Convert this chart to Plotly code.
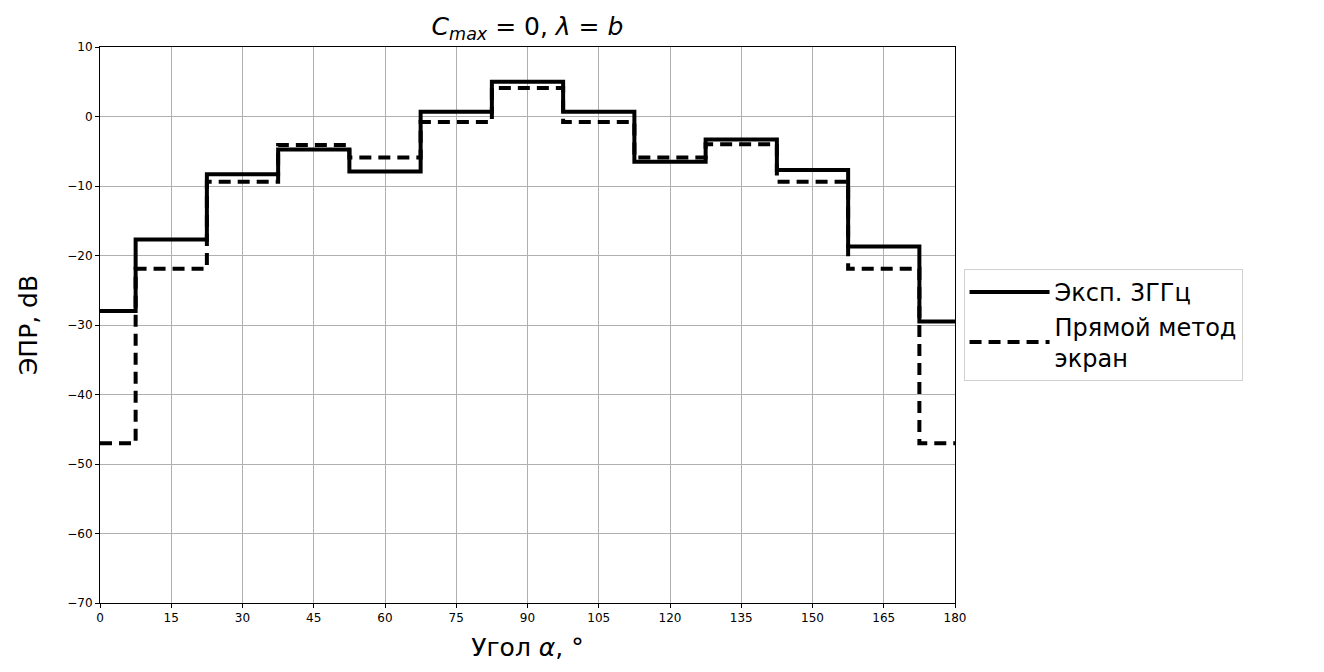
import plotly.graph_objects as go

angles = [0, 15, 30, 45, 60, 75, 90, 105, 120, 135, 150, 165, 180]
exp_3ghz = [-28.0, -17.7, -8.3, -4.75, -7.9, 0.7, 5.0, 0.7, -6.5, -3.3, -7.7, -18.7, -29.5]
direct_screen = [-47.0, -21.9, -9.4, -4.1, -5.9, -0.8, 4.1, -0.8, -5.9, -4.0, -9.4, -21.9, -47.0]

x_ticks = list(range(0, 181, 15))
y_ticks = list(range(-70, 11, 10))

fig = go.Figure()
fig.add_trace(go.Scatter(
    x=angles, y=exp_3ghz, mode="lines", line_shape="hvh",
    line=dict(color="black", width=4),
    name="Эксп. 3ГГц",
))
fig.add_trace(go.Scatter(
    x=angles, y=direct_screen, mode="lines", line_shape="hvh",
    line=dict(color="black", width=4, dash="12px,7px"),
    name="Прямой метод<br>экран",
))

axis_common = dict(
    showgrid=True, gridcolor="#b0b0b0", gridwidth=1,
    showline=True, linecolor="black", linewidth=1, mirror=True,
    ticks="outside", ticklen=4, tickcolor="black",
    tickfont=dict(family="DejaVu Sans", size=12, color="black"),
    zeroline=False,
)

fig.update_layout(
    width=1324, height=672,
    margin=dict(l=100, r=369, t=47, b=69),
    paper_bgcolor="white", plot_bgcolor="white",
    font=dict(family="DejaVu Sans", color="black"),
    title=dict(
        text="<i>C</i><sub><i>max</i></sub> = 0, <i>λ</i> = <i>b</i>",
        x=(100 + 955) / 2 / 1324, xanchor="center",
        y=1 - 26 / 672, yanchor="middle",
        font=dict(family="DejaVu Sans", size=25, color="black"),
    ),
    xaxis=dict(
        range=[0, 180], tickvals=x_ticks, ticktext=[str(v) for v in x_ticks],
        title=dict(text="Угол <i>α</i>, °", font=dict(size=25), standoff=14),
        **axis_common,
    ),
    yaxis=dict(
        range=[-70, 10], tickvals=y_ticks,
        ticktext=[("\u2212" + str(-v)) if v < 0 else str(v) for v in y_ticks],
        title=dict(text="ЭПР, dB", font=dict(size=25), standoff=22),
        **axis_common,
    ),
    legend=dict(
        x=1.01, xanchor="left", y=0.5, yanchor="middle",
        font=dict(family="DejaVu Sans", size=24, color="black"),
        bordercolor="#d0d0d0", borderwidth=1, bgcolor="white",
        itemwidth=80, tracegroupgap=4,
    ),
    showlegend=True,
)

fig.write_html("out.html")
